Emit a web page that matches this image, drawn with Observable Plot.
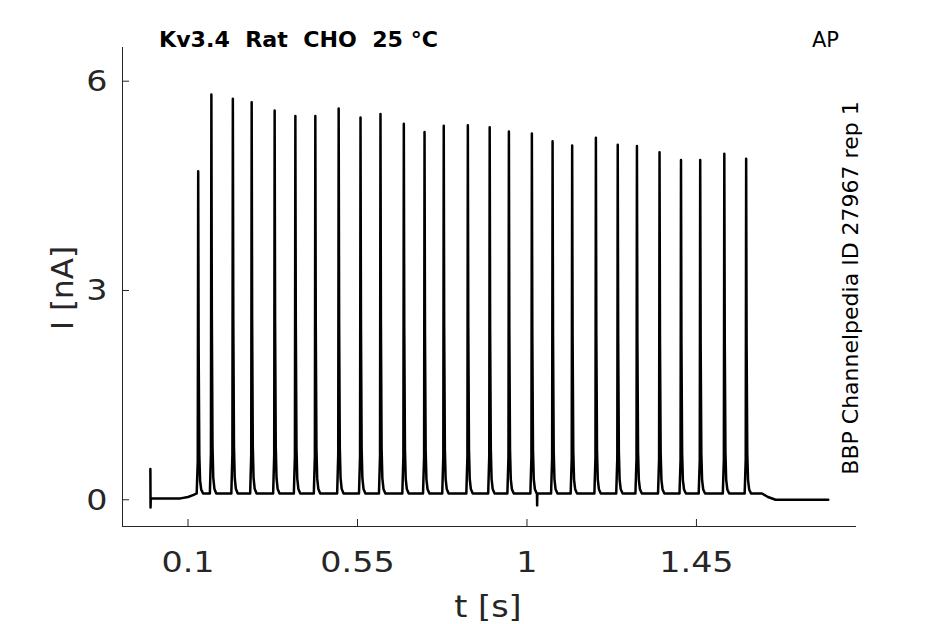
<!DOCTYPE html>
<html>
<head>
<meta charset="utf-8">
<script src="https://cdn.jsdelivr.net/npm/d3@7"></script>
<script src="https://cdn.jsdelivr.net/npm/@observablehq/plot@0.6"></script>
<style>
  html, body { margin: 0; padding: 0; background: #fff; }
  #chart { width: 945px; height: 624px; }
</style>
</head>
<body>
<div id="chart"></div>
<script>
// ---- data ----
const spikeTimes = [0.127, 0.162, 0.219, 0.269, 0.330, 0.385, 0.438, 0.500, 0.558, 0.611,
                    0.673, 0.728, 0.779, 0.843, 0.901, 0.952, 1.013, 1.068, 1.120, 1.183,
                    1.241, 1.292, 1.352, 1.409, 1.460, 1.524, 1.582];
const spikePeaks = [4.71, 5.81, 5.75, 5.70, 5.58, 5.50, 5.50, 5.61, 5.48, 5.53,
                    5.39, 5.27, 5.36, 5.37, 5.34, 5.28, 5.25, 5.14, 5.08, 5.19,
                    5.09, 5.07, 4.98, 4.87, 4.87, 4.96, 4.89];
const spikeShapeDt   = [-0.004, -0.0012, 0, 0.0012, 0.003, 0.005, 0.008, 0.013];
const spikeShapeFrac = [0, 0.1, 1, 0.45, 0.12, 0.04, 0.012, 0];
const troughLevel = 0.09;
const leadTimes  = [0, 0.0005, 0.001, 0.08, 0.10, 0.115, 0.122];
const leadValues = [0.44, -0.11, 0.02, 0.02, 0.04, 0.07, 0.09];
const blipTimes  = [1.0265, 1.027, 1.0275];
const blipValues = [0.09, -0.08, 0.09];
const tailTimes  = [1.624, 1.64, 1.66, 1.80];
const tailValues = [0.09, 0.04, 0.0, 0.0];

const xTicks = [0.1, 0.55, 1, 1.45];
const xTickLabels = ["0.1", "0.55", "1", "1.45"];
const yTicks = [0, 3, 6];
const yTickLabels = ["0", "3", "6"];
const xDomain = [-0.074, 1.875];
const yDomain = [-0.383, 6.483];

const titleText = "Kv3.4  Rat  CHO  25 °C";
const cornerText = "AP";
const sideText = "BBP Channelpedia ID 27967 rep 1";
const xLabel = "t [s]";
const yLabel = "I [nA]";

// ---- build trace table ----
const trace = [];
leadTimes.forEach((t, i) => trace.push({t, v: leadValues[i]}));
spikeTimes.forEach((t0, j) => {
  spikeShapeDt.forEach((dt, k) => {
    trace.push({t: t0 + dt, v: troughLevel + spikeShapeFrac[k] * (spikePeaks[j] - troughLevel)});
  });
});
blipTimes.forEach((t, i) => trace.push({t, v: blipValues[i]}));
tailTimes.forEach((t, i) => trace.push({t, v: tailValues[i]}));
trace.sort((a, b) => a.t - b.t);

const W = 945, H = 624;
const mL = 122, mR = 89, mT = 47, mB = 98;
const frameW = W - mL - mR, frameH = H - mT - mB;
const axisColor = "#262626";
const tickLen = 7;

const chart = Plot.plot({
  width: W, height: H,
  marginLeft: mL, marginRight: mR, marginTop: mT, marginBottom: mB,
  style: {background: "#fff", fontFamily: "DejaVu Sans", overflow: "visible"},
  x: {domain: xDomain, axis: null},
  y: {domain: yDomain, axis: null},
  marks: [
    // axis lines
    Plot.ruleX([xDomain[0]], {stroke: axisColor, strokeWidth: 1}),
    Plot.ruleY([yDomain[0]], {stroke: axisColor, strokeWidth: 1}),
    // inward ticks
    Plot.ruleX(xTicks, {x: d => d, insetTop: frameH - tickLen, stroke: axisColor, strokeWidth: 1}),
    Plot.ruleY(yTicks, {y: d => d, insetRight: frameW - tickLen, stroke: axisColor, strokeWidth: 1}),
    // trace
    Plot.line(trace, {x: "t", y: "v", stroke: "#000", strokeWidth: 2.5, strokeLinejoin: "round", curve: "linear"}),
    // tick labels
    Plot.text(xTicks, {x: d => d, text: (d, i) => xTickLabels[i], frameAnchor: "bottom",
      lineAnchor: "bottom", dy: 45.7, fontSize: 29, fill: axisColor}),
    Plot.text(yTicks, {y: d => d, text: (d, i) => yTickLabels[i], frameAnchor: "left",
      textAnchor: "end", lineAnchor: "middle", dx: -15, dy: 10, fontSize: 29, fill: axisColor}),
    // axis labels
    Plot.text([xLabel], {frameAnchor: "bottom", lineAnchor: "bottom", dy: 90, dx: -1.5,
      fontSize: 31, fill: axisColor}),
    Plot.text([yLabel], {frameAnchor: "left", rotate: -90, textAnchor: "middle", lineAnchor: "bottom",
      dx: -49.3, dy: 1, fontSize: 31, fill: axisColor}),
    // title, corner, side
    Plot.text([titleText], {frameAnchor: "top-left", textAnchor: "start", lineAnchor: "bottom",
      dx: 36.5, dy: -0.3, fontSize: 20.5, fontWeight: "bold", fill: "#000"}),
    Plot.text([cornerText], {frameAnchor: "top-right", textAnchor: "end", lineAnchor: "bottom",
      dx: -17.5, dy: -1, fontSize: 21, fill: "#000"}),
    Plot.text([sideText], {frameAnchor: "right", rotate: -90, textAnchor: "middle", lineAnchor: "bottom",
      dx: 1.7, dy: 1, fontSize: 22, fill: "#000"})
  ]
});
document.getElementById("chart").appendChild(chart);

// horizontal widening of glyphs to match the reference's wider lettering
const stretch = [1.15, 1.15, 1.08, 1, 1.08, 1, 1];
const groups = chart.querySelectorAll('g[aria-label="text"]');
groups.forEach((g, gi) => {
  const k = stretch[gi] || 1;
  if (k === 1) return;
  g.querySelectorAll("text").forEach(t => {
    const x = +t.getAttribute("x") || 0, y = +t.getAttribute("y") || 0;
    const tr = t.getAttribute("transform") || "";
    t.removeAttribute("x"); t.removeAttribute("y");
    t.setAttribute("transform", `${tr} translate(${x},${y}) scale(${k},1)`);
  });
});
</script>
</body>
</html>
